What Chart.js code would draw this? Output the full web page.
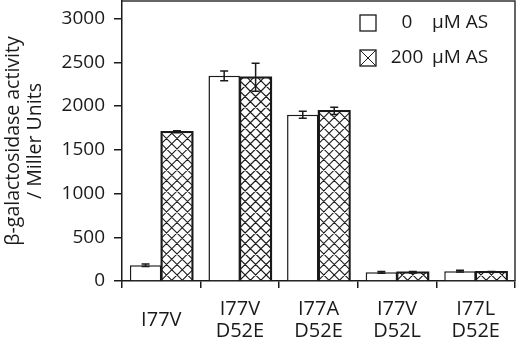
<!DOCTYPE html>
<html>
<head>
<meta charset="utf-8">
<script src="https://cdn.jsdelivr.net/npm/chart.js@4/dist/chart.umd.min.js"></script>
<style>
html,body{margin:0;padding:0;background:#fff;}
#wrap{width:517px;height:337px;position:relative;}
</style>
</head>
<body>
<div id="wrap"><canvas id="c" width="517" height="337"></canvas></div>
<script>
const categories = ['I77V', ['I77V', 'D52E'], ['I77A', 'D52E'], ['I77V', 'D52L'], ['I77L', 'D52E']];
const values0 = [180, 2345, 1900, 100, 112];
const values200 = [1705, 2330, 1945, 100, 105];
const err0 = [15, 55, 40, 10, 10];
const err200 = [12, 160, 42, 8, 5];
const yTicks = [0, 500, 1000, 1500, 2000, 2500, 3000];
const legendNums = ['0', '200'];
const legendUnit = 'μM AS';
const yTitle = ['β-galactosidase activity', '/ Miller Units'];

const FONT = '"Open Sans", "DejaVu Sans", sans-serif';
const INK = '#1a1a1a';
const HATCH = 10.5;

function drawHatch(ctx, left, top, right, bottom, period, lw) {
  ctx.save();
  ctx.beginPath();
  ctx.rect(left, top, right - left, bottom - top);
  ctx.clip();
  ctx.strokeStyle = INK;
  ctx.lineWidth = lw;
  const w = right - left, h = bottom - top;
  const ox = left + period / 2, oy = bottom - period / 2;
  const span = w + h + 2 * period;
  ctx.beginPath();
  for (let k = -Math.ceil(span / period) - 2; k <= Math.ceil(span / period) + 2; k++) {
    const cx = ox + k * period;
    ctx.moveTo(cx - span, oy + span);
    ctx.lineTo(cx + span, oy - span);
    ctx.moveTo(cx - span, oy - span);
    ctx.lineTo(cx + span, oy + span);
  }
  ctx.stroke();
  ctx.restore();
}

const hatchPlugin = {
  id: 'hatchErr',
  afterDatasetsDraw(chart) {
    const ctx = chart.ctx;
    const meta1 = chart.getDatasetMeta(1);
    meta1.data.forEach(el => {
      const p = el.getProps(['x', 'y', 'base', 'width'], true);
      const l = p.x - p.width / 2, r = p.x + p.width / 2;
      drawHatch(ctx, l, p.y, r, p.base, HATCH, 1.1);
      ctx.save();
      ctx.strokeStyle = INK;
      ctx.lineWidth = 1.5;
      ctx.beginPath();
      ctx.moveTo(l, p.base);
      ctx.lineTo(l, p.y);
      ctx.lineTo(r, p.y);
      ctx.lineTo(r, p.base);
      ctx.stroke();
      ctx.restore();
    });
    const ys = chart.scales.y;
    [[0, values0, err0], [1, values200, err200]].forEach(([di, vals, errs]) => {
      const meta = chart.getDatasetMeta(di);
      meta.data.forEach((el, i) => {
        const x = el.getProps(['x'], true).x;
        const yt = ys.getPixelForValue(vals[i] + errs[i]);
        const yb = ys.getPixelForValue(vals[i] - errs[i]);
        ctx.save();
        ctx.strokeStyle = INK;
        ctx.lineWidth = 1.5;
        ctx.beginPath();
        ctx.moveTo(x, yt); ctx.lineTo(x, yb);
        ctx.moveTo(x - 4, yt); ctx.lineTo(x + 4, yt);
        ctx.moveTo(x - 4, yb); ctx.lineTo(x + 4, yb);
        ctx.stroke();
        ctx.restore();
      });
    });
  },
  afterDraw(chart) {
    const ctx = chart.ctx;
    const a = chart.chartArea;
    ctx.save();
    ctx.strokeStyle = '#333';
    ctx.lineWidth = 1.5;
    ctx.beginPath();
    ctx.moveTo(a.left, a.top);
    ctx.lineTo(a.right, a.top);
    ctx.lineTo(a.right, a.bottom);
    ctx.stroke();
    const bx = a.right - 155;
    const rows = [a.top + 14, a.top + 49];
    ctx.lineWidth = 1.3;
    ctx.strokeStyle = INK;
    ctx.fillStyle = '#fff';
    ctx.fillRect(bx, rows[0], 16, 16);
    ctx.strokeRect(bx, rows[0], 16, 16);
    ctx.fillRect(bx, rows[1], 16, 16);
    drawHatch(ctx, bx, rows[1], bx + 16, rows[1] + 16, 16, 1);
    ctx.strokeRect(bx, rows[1], 16, 16);
    ctx.fillStyle = INK;
    ctx.font = '19px ' + FONT;
    ctx.textBaseline = 'middle';
    rows.forEach((ry, i) => {
      ctx.textAlign = 'center';
      ctx.fillText(legendNums[i], bx + 47, ry + 8);
      ctx.textAlign = 'left';
      ctx.fillText(legendUnit, bx + 72, ry + 8);
    });
    ctx.restore();
  }
};

new Chart(document.getElementById('c'), {
  type: 'bar',
  data: {
    labels: categories,
    datasets: [
      { label: '0 μM AS', data: values0, backgroundColor: '#fff', borderColor: INK, borderWidth: 1.5 },
      { label: '200 μM AS', data: values200, backgroundColor: '#fff', borderColor: INK, borderWidth: 1.5 }
    ]
  },
  options: {
    responsive: false,
    animation: false,
    devicePixelRatio: 1,
    layout: { padding: { top: 1, right: 2, left: 0, bottom: 0 } },
    datasets: { bar: { categoryPercentage: 0.8, barPercentage: 1.0 } },
    plugins: { legend: { display: false }, tooltip: { enabled: false } },
    scales: {
      x: {
        grid: { offset: true, drawOnChartArea: false, tickLength: 7, color: INK, lineWidth: 1.5 },
        border: { display: true, color: INK, width: 1.5 },
        ticks: { color: INK, font: { family: FONT, size: 20, lineHeight: 1.1 }, padding: 21, maxRotation: 0, autoSkip: false, crossAlign: 'center' },
        afterFit(s) { s.height = 56; s.paddingLeft = 0; s.paddingRight = 0; }
      },
      y: {
        min: 0, max: 3200,
        afterBuildTicks(s) { s.ticks = yTicks.map(v => ({ value: v })); },
        grid: { drawOnChartArea: false, tickLength: 8, color: INK, lineWidth: 1.5 },
        border: { display: true, color: INK, width: 1.5 },
        ticks: { color: INK, font: { family: FONT, size: 19 }, padding: 9, callback: v => String(v) },
        title: { display: true, text: yTitle, color: INK, font: { family: FONT, size: 19.5, lineHeight: 1.13 }, padding: { top: 2, bottom: 0 } },
        afterFit(s) { s.width = 122; s.paddingTop = 0; s.paddingBottom = 0; }
      }
    }
  },
  plugins: [hatchPlugin]
});
</script>
</body>
</html>
